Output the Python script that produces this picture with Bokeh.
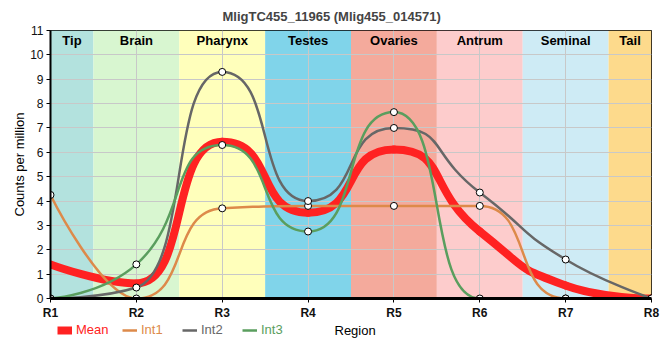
from bokeh.plotting import figure
from bokeh.layouts import column
from bokeh.models import ColumnDataSource, Legend, LegendItem, FixedTicker, Range1d, Label
from bokeh.core.properties import value
from bokeh.embed import file_html
from bokeh.resources import INLINE

# ---------------- data ----------------
regions = ["R1", "R2", "R3", "R4", "R5", "R6", "R7", "R8"]
xpos = [1, 2, 3, 4, 5, 6, 7, 8]
mean = [1.40, 0.62, 6.43, 3.52, 6.12, 2.75, 0.53, 0.0]
int1 = [4.25, 0.0, 3.70, 3.80, 3.80, 3.80, 0.0, 0.0]
int2 = [0.0, 0.45, 9.30, 4.00, 7.00, 4.35, 1.60, 0.0]
int3 = [0.0, 1.40, 6.30, 2.75, 7.65, 0.0, 0.0, 0.0]

band_names = ["Tip", "Brain", "Pharynx", "Testes", "Ovaries", "Antrum", "Seminal", "Tail"]
band_left = [1.0, 1.5, 2.5, 3.5, 4.5, 5.5, 6.5, 7.5]
band_right = [1.5, 2.5, 3.5, 4.5, 5.5, 6.5, 7.5, 8.0]
band_colors = ["#b3e2de", "#d8f6d0", "#ffffbb", "#80d4ea", "#f4aa9c", "#fdcccc", "#ceebf5", "#fdda8c"]

series_names = ["Mean", "Int1", "Int2", "Int3"]
series_colors = ["#ff2222", "#dd8a4a", "#676767", "#5a9e5e"]
series_widths = [8, 2.5, 2.5, 2.5]

TITLE = "MligTC455_11965 (Mlig455_014571)"
X_TITLE = "Region"
Y_TITLE = "Counts per million"
FONT = "Liberation Sans"

W = 660


def spline_segments(xs, ys, a_in=0.62, a_end=0.4):
    """Bezier segments (Highcharts-like control points: flat at extrema)."""
    n = len(xs)
    lc = [None] * n
    rc = [None] * n
    rc[0] = (xs[0], ys[0])
    lc[n - 1] = (xs[-1], ys[-1])
    for i in range(1, n - 1):
        hl = xs[i] - xs[i - 1]
        hr = xs[i + 1] - xs[i]
        aL = a_end if i - 1 == 0 else a_in
        aR = a_end if i + 1 == n - 1 else a_in
        slope = (ys[i + 1] - ys[i - 1]) / (xs[i + 1] - xs[i - 1])
        ly = ys[i] - slope * aL * hl
        ry = ys[i] + slope * aR * hr
        k = (aR * hr) / (aL * hl)
        if ly > ys[i - 1] and ly > ys[i]:
            ly = max(ys[i - 1], ys[i]); ry = ys[i] - (ly - ys[i]) * k
        elif ly < ys[i - 1] and ly < ys[i]:
            ly = min(ys[i - 1], ys[i]); ry = ys[i] - (ly - ys[i]) * k
        if ry > ys[i + 1] and ry > ys[i]:
            ry = max(ys[i + 1], ys[i]); ly = ys[i] - (ry - ys[i]) / k
        elif ry < ys[i + 1] and ry < ys[i]:
            ry = min(ys[i + 1], ys[i]); ly = ys[i] - (ry - ys[i]) / k
        lc[i] = (xs[i] - aL * hl, ly)
        rc[i] = (xs[i] + aR * hr, ry)
    return dict(
        x0=xs[:-1], y0=ys[:-1], x1=xs[1:], y1=ys[1:],
        cx0=[rc[i][0] for i in range(n - 1)], cy0=[rc[i][1] for i in range(n - 1)],
        cx1=[lc[i + 1][0] for i in range(n - 1)], cy1=[lc[i + 1][1] for i in range(n - 1)],
    )


p = figure(width=W, height=322, output_backend="svg", toolbar_location=None,
           x_range=Range1d(1, 8), y_range=Range1d(0, 11),
           min_border_left=50, min_border_right=9, min_border_top=30, min_border_bottom=22)

p.title.text = TITLE
p.title.align = "left"
p.title.offset = 172
p.title.text_font = FONT
p.title.text_font_size = "13px"
p.title.text_font_style = "bold"
p.title.standoff = 13

# background bands
band_src = ColumnDataSource(dict(left=band_left, right=band_right, color=band_colors,
                                 name=band_names,
                                 mid=[(l + r) / 2 for l, r in zip(band_left, band_right)],
                                 top=[11] * len(band_names), bottom=[0] * len(band_names),
                                 ly=[10.6] * len(band_names)))
p.quad(left="left", right="right", top="top", bottom="bottom", fill_color="color",
       line_color=None, source=band_src, level="image")
p.text(x="mid", y="ly", text="name", source=band_src, text_align="center",
       text_baseline="middle", text_font=value(FONT), text_font_size="13px",
       text_font_style="bold", text_color="black")

# grid
p.xgrid.ticker = FixedTicker(ticks=xpos)
p.ygrid.ticker = FixedTicker(ticks=list(range(0, 12)))
p.grid.grid_line_color = "#c8c8c8"
p.grid.grid_line_width = 1

# curves
all_series = [mean, int1, int2, int3]
for name, ys, col, w in zip(series_names, all_series, series_colors, series_widths):
    seg = spline_segments(xpos, ys)
    p.bezier(source=ColumnDataSource(seg), x0="x0", y0="y0", x1="x1", y1="y1",
             cx0="cx0", cy0="cy0", cx1="cx1", cy1="cy1",
             line_color=col, line_width=w, line_cap="round", line_join="round")

for ys in [int1, int2, int3]:
    p.scatter(xpos, ys, size=7, marker="circle", fill_color="white",
              line_color="black", line_width=1)

# axes
p.xaxis.ticker = FixedTicker(ticks=xpos)
p.xaxis.major_label_overrides = {x: r for x, r in zip(xpos, regions)}
p.yaxis.ticker = FixedTicker(ticks=list(range(0, 12)))
p.yaxis.axis_label = Y_TITLE
for ax in (p.xaxis, p.yaxis):
    ax.axis_line_color = "black"
    ax.major_tick_line_color = "black"
    ax.major_tick_in = 0
    ax.major_tick_out = 4
    ax.minor_tick_line_color = None
    ax.major_label_text_font = FONT
    ax.major_label_text_font_size = "12px"
    ax.major_label_text_color = "#111111"
    ax.axis_label_text_font = FONT
    ax.axis_label_text_font_size = "13px"
    ax.axis_label_text_font_style = "normal"
    ax.axis_label_text_color = "black"
p.xaxis.axis_line_width = 3
p.yaxis.axis_line_width = 2
p.xaxis.major_label_text_font_style = "bold"
p.xaxis.major_label_standoff = 3
p.yaxis.major_label_standoff = 3
p.yaxis.axis_label_standoff = 0

p.outline_line_color = "black"
p.outline_line_width = 1

# ---------------- legend strip (same row as the x-axis title) ----------------
# (the column layout aligns this strip's frame with the main frame's left edge)
lg_fig = figure(width=W, height=22, output_backend="svg", toolbar_location=None,
                x_range=Range1d(0, W), y_range=Range1d(0, 22),
                min_border_left=0, min_border_right=0, min_border_top=0, min_border_bottom=0)
lg_fig.axis.visible = False
lg_fig.grid.visible = False
lg_fig.outline_line_color = None

nan = float("nan")
leg_x = [7, 72, 132, 192]
for name, col, w, lx in zip(series_names, series_colors, series_widths, leg_x):
    r = lg_fig.line(x=[nan], y=[nan], line_color=col, line_width=w)
    lg = Legend(items=[LegendItem(label=name, renderers=[r])], location=(lx, 7),
                orientation="horizontal", padding=0, margin=0, spacing=0,
                glyph_width=15, glyph_height=14, label_height=14, label_standoff=4,
                label_text_font=FONT, label_text_font_size="13px",
                label_text_color=col, border_line_color=None, background_fill_alpha=0)
    lg_fig.add_layout(lg, "center")

lg_fig.add_layout(Label(x=284, y=14, x_units="screen", y_units="screen", text=X_TITLE,
                        text_font=FONT, text_font_size="13px", text_color="black",
                        text_baseline="middle", text_align="left"))

layout = column(p, lg_fig, spacing=0)
open("out.html", "w").write(file_html(layout, INLINE))
